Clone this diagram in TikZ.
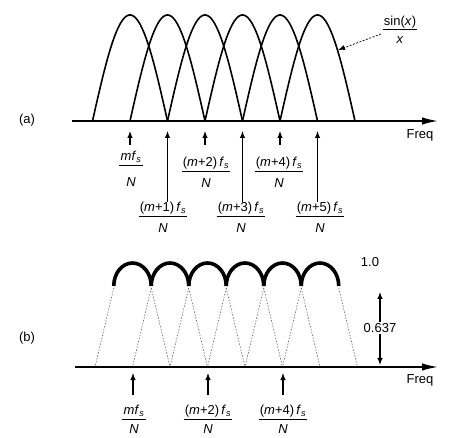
\documentclass[tikz,border=0pt]{standalone}
\usepackage{fontspec}
\setmainfont{Liberation Sans}
\usetikzlibrary{arrows.meta}
\newcommand\fsb{\textit{f}\textsubscript{\textit{s}}}
\newcommand\frlab[6]{%
  \node[lbl] (#1n) at (#2,#3) {#6};
  \node[lbl] (#1d) at (#2,#5) {\textit{N}};
  \draw[fracbar] (#1n.west |- 0,#4) -- (#1n.east |- 0,#4);}
\begin{document}
\begin{tikzpicture}[x=1pt,y=-1pt,
  lbl/.style={inner sep=1pt,font=\fontsize{13}{15}\selectfont},
  fracbar/.style={line width=1pt},
  lobe/.style={line width=1.6pt},
  hump/.style={line width=3.6pt},
  dotl/.style={line width=0.6pt,black!60,dash pattern=on 1.5pt off 1.5pt},
  axis/.style={line width=1.6pt,-{Latex[length=16pt,width=7.5pt]}},
  marker/.style={line width=1.1pt,-{Latex[length=7pt,width=5.5pt]}},
  dbl/.style={line width=1.1pt,-{Latex[length=7pt,width=5.5pt]}}]
\useasboundingbox (0,0) rectangle (474,438);
% ---------- (a) ----------
\node[lbl] (la) at (27,120) {(a)};
\coordinate (a0) at (72,121);
\coordinate (a1) at (438,121);
\draw[axis] (a0) -- (a1);
\node[lbl] (fa) at (420,135) {Freq};
\foreach \c in {130,167.5,205,242.5,280,317.5}
  \draw[lobe] plot[domain=-1:1,samples=60,smooth] ({\c+37.5*\x},{121-106*cos(90*\x)});
% sinc label
\node[lbl] (sn) at (400,22) {sin(\textit{x})};
\node[lbl] (sd) at (400,40) {\textit{x}};
\draw[fracbar] (sn.west |- 0,30) -- (sn.east |- 0,30);
\coordinate (s0) at (381,34);
\coordinate (s1) at (338,50);
\draw[line width=0.7pt,dash pattern=on 2pt off 1.5pt,-{Latex[length=7pt,width=5pt]}] (s0) -- (s1);
% markers
\foreach \i/\x/\yb in {0/130/145,1/167.5/202,2/205/145,3/242.5/202,4/280/145,5/317.5/202}{
  \coordinate (ab\i) at (\x,\yb);
  \coordinate (at\i) at (\x,131);
  \draw[marker] (ab\i) -- (at\i);
}
\frlab{q0}{131}{157}{166}{182}{\textit{mf}\textsubscript{\textit{s}}}
\frlab{q2}{206}{163}{172}{183}{(\textit{m}+2)\,\fsb}
\frlab{q4}{279}{163}{172}{183}{(\textit{m}+4)\,\fsb}
\frlab{q1}{163}{208}{217}{228}{(\textit{m}+1)\,\fsb}
\frlab{q3}{241}{208}{217}{228}{(\textit{m}+3)\,\fsb}
\frlab{q5}{320}{208}{217}{228}{(\textit{m}+5)\,\fsb}
% ---------- (b) ----------
\node[lbl] (lb) at (27,338) {(b)};
\coordinate (b0) at (75,367);
\coordinate (b1) at (438,367);
\foreach \c in {132.5,170,207.5,245,282.5,320}{
  \draw[dotl] (\c-18.75,288) -- (\c-37.5,367);
  \draw[dotl] (\c+18.75,288) -- (\c+37.5,367);
  \draw[hump] (\c-18.75,286) arc[start angle=180,end angle=360,x radius=18.75,y radius=23];
}
\draw[axis] (b0) -- (b1);
\node[lbl] (fb) at (420,380) {Freq};
\node[lbl] (one) at (370,262) {1.0};
\node[lbl,fill=white] (v) at (380,328) {0.637};
\coordinate (vt) at (380,292);
\coordinate (vb) at (380,365);
\draw[dbl] (v.north) -- (vt);
\draw[dbl] (v.south) -- (vb);
\foreach \i/\x in {0/133,2/208,4/283}{
  \coordinate (bb\i) at (\x,395);
  \coordinate (bt\i) at (\x,373);
  \draw[marker] (bb\i) -- (bt\i);
}
\frlab{r0}{134}{411}{419}{429}{\textit{mf}\textsubscript{\textit{s}}}
\frlab{r2}{208}{411}{419}{429}{(\textit{m}+2)\,\fsb}
\frlab{r4}{283}{411}{419}{429}{(\textit{m}+4)\,\fsb}
\end{tikzpicture}
\end{document}
